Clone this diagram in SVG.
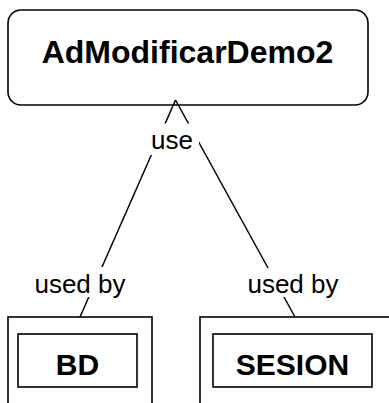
<svg xmlns="http://www.w3.org/2000/svg" width="389" height="403" viewBox="0 0 389 403">
<style>
.box{fill:#fff;stroke:#000;stroke-width:1.6}
.ln{fill:none;stroke:#000;stroke-width:1.5}
.lbl{font-family:"Liberation Sans",Arial,sans-serif;font-size:26px;fill:#000;text-anchor:middle}
.ttl{font-family:"Liberation Sans",Arial,sans-serif;font-weight:bold;fill:#000;text-anchor:middle}
.bg{fill:#fff;stroke:none}
</style>
<rect width="389" height="403" fill="#fff"/>
<g id="node-AdModificarDemo2">
<rect class="box" x="8" y="10" width="360" height="95" rx="13" ry="13"/>
<text class="ttl" x="187.5" y="63" font-size="32">AdModificarDemo2</text>
</g>
<g id="node-BD">
<rect class="box" x="8" y="317" width="144" height="100"/>
<rect class="box" x="18" y="334" width="119" height="53"/>
<text class="ttl" x="77.5" y="375" font-size="30">BD</text>
</g>
<g id="node-SESION">
<rect class="box" x="200" y="317" width="200" height="100"/>
<rect class="box" x="213" y="334" width="159" height="53"/>
<text class="ttl" x="292.5" y="375" font-size="30">SESION</text>
</g>
<g id="connectors">
<path class="ln" d="M175.5,100 L80,317"/>
<path class="ln" d="M175.5,100 L295,317"/>
<rect class="bg" x="150" y="123.5" width="49" height="31.5"/>
<text class="lbl" x="172" y="149">use</text>
<rect class="bg" x="31" y="267" width="98" height="30"/>
<text class="lbl" x="80" y="293">used by</text>
<rect class="bg" x="246" y="268" width="94" height="29"/>
<text class="lbl" x="293" y="293">used by</text>
</g>
</svg>
